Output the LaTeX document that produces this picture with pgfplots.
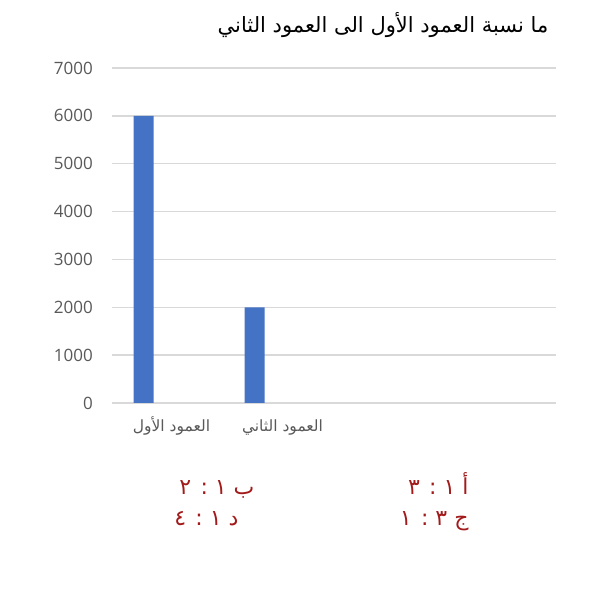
\documentclass[border=0pt]{standalone}
\usepackage{fontspec}
\usepackage{pgfplots}
\pgfplotsset{compat=1.18}
\setmainfont{Open Sans}
\newfontfamily\arabicfont[Script=Arabic]{DejaVu Sans}
\TeXXeTstate=1
\definecolor{barblue}{HTML}{4472C4}
\definecolor{gridgray}{HTML}{D9D9D9}
\definecolor{labgray}{HTML}{595959}
\definecolor{ansred}{HTML}{A31A1A}
\begin{document}
\begin{tikzpicture}
\path[use as bounding box, fill=white] (0,0) rectangle (602pt,589pt);
\begin{axis}[
  at={(112pt,186pt)}, anchor=south west,
  scale only axis, width=444pt, height=335pt,
  xmin=-0.5, xmax=3.5, ymin=0, ymax=7000,
  ytick distance=1000,
  xtick={0,1}, xticklabels={{\arabicfont\beginR العمود الأول\endR},{\arabicfont\beginR العمود الثاني\endR}},
  axis line style={draw=none},
  major tick length=0pt,
  ymajorgrids, grid style={gridgray, line width=1.3pt},
  tick label style={text=labgray},
  yticklabel style={font=\fontsize{17}{17}\selectfont, anchor=east, inner sep=0pt, xshift=-19pt},
  xticklabel style={font=\fontsize{15.5}{15.5}\selectfont, anchor=base, inner sep=0pt, yshift=-29pt, xshift=4pt},
  /pgf/number format/assume math mode=true,
  /pgf/number format/1000 sep={},
  clip=false,
]
\addplot[ybar, bar width=20pt, bar shift=-24pt, fill=barblue, draw=none] coordinates {(0,6000) (1,2000)};
\end{axis}
\node[font=\arabicfont\fontsize{21}{21}\selectfont, anchor=base] at (383pt,556pt) {\beginR ما نسبة العمود الأول الى العمود الثاني\endR};
\node[font=\arabicfont\fontsize{22}{22}\selectfont, text=ansred, anchor=base east] at (472pt,94pt) {\beginR أ ١ : ٣\endR};
\node[font=\arabicfont\fontsize{22}{22}\selectfont, text=ansred, anchor=base east] at (258pt,94pt) {\beginR ب ١ : ٢\endR};
\node[font=\arabicfont\fontsize{22}{22}\selectfont, text=ansred, anchor=base east] at (472pt,63pt) {\beginR ج ٣ : ١\endR};
\node[font=\arabicfont\fontsize{22}{22}\selectfont, text=ansred, anchor=base east] at (242pt,63pt) {\beginR د ١ : ٤\endR};
\end{tikzpicture}
\end{document}
